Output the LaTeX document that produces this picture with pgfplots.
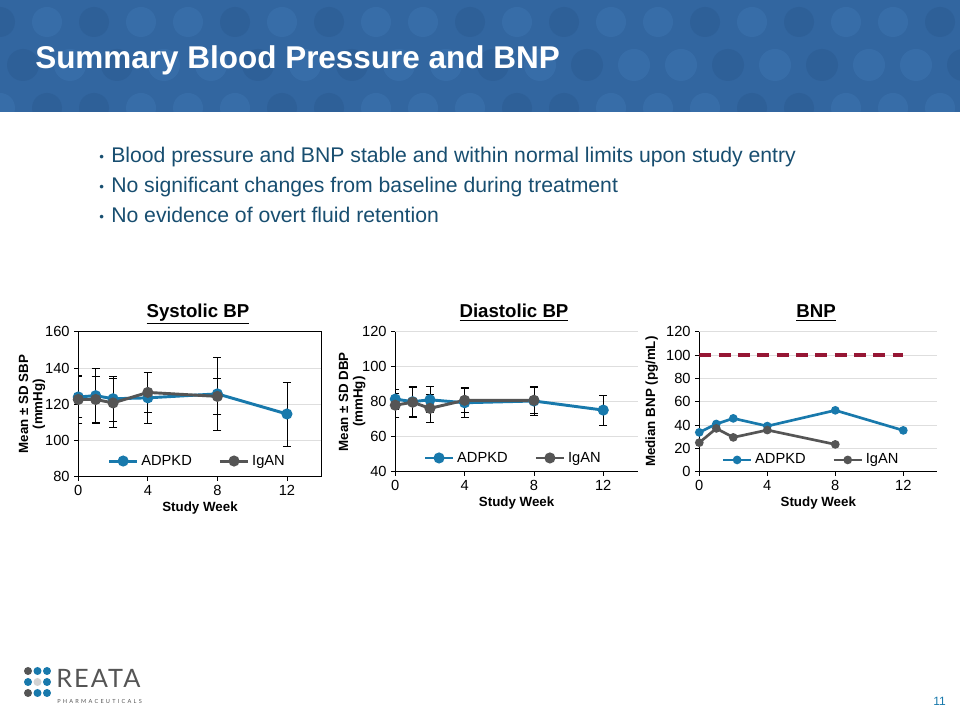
\documentclass[border=0pt]{standalone}
\usepackage{fontspec}
\setmainfont{Liberation Sans}
\newfontfamily\logofont{Lato}
\usepackage{pgfplots}
\usepackage{pgfplotstable}
\pgfplotsset{compat=1.18}
\definecolor{hdr}{RGB}{50,102,160}
\definecolor{hdrl}{RGB}{64,120,180}
\definecolor{hdrd}{RGB}{42,88,142}
\definecolor{adpkd}{RGB}{24,121,172}
\definecolor{igan}{RGB}{85,85,85}
\definecolor{refred}{RGB}{150,22,52}
\definecolor{bul}{RGB}{24,78,112}
\definecolor{gridc}{RGB}{222,222,222}

\pgfplotstableread{
w m e
0 124.0 11.5
1 124.7 15.2
2 123.0 12.5
4 123.5 14.0
8 125.7 20.0
12 114.6 17.7
}\sbpA
\pgfplotstableread{
w m e
0 122.6 13.3
1 122.6 12.5
2 120.7 13.5
4 126.5 11.0
8 124.3 10.0
}\sbpI
\pgfplotstableread{
w m e
0 81.5 5.8
1 80.0 8.3
2 81.1 7.5
4 79.4 8.5
8 80.4 8.5
12 75.2 8.5
}\dbpA
\pgfplotstableread{
w m e
0 78.0 7.0
1 79.7 8.8
2 76.2 8.2
4 80.8 6.8
8 80.8 7.4
}\dbpI
\pgfplotstableread{
w m
0 33.7
1 40.9
2 45.7
4 39.1
8 52.6
12 35.4
}\bnpA
\pgfplotstableread{
w m
0 24.9
1 37.1
2 29.4
4 35.7
8 23.4
}\bnpI

\pgfplotsset{
  slide/.style={
    scale only axis,
    xmin=0, xmax=14, xtick={0,4,8,12},
    axis line style={black, line width=0.6pt},
    tick style={black, line width=0.6pt},
    tick align=outside, major tick length=3pt,
    xtick pos=bottom, ytick pos=left,
    ymajorgrids, grid style={gridc, line width=0.5pt},
    tick label style={font=\fontsize{11}{13}\selectfont},
    /pgf/number format/assume math mode=true,
    xlabel={Study Week},
    xlabel style={font=\bfseries\fontsize{10}{12}\selectfont, inner sep=0pt, yshift=-1pt},
    ylabel style={font=\bfseries\fontsize{10}{10.8}\selectfont, align=center, anchor=center},
    legend columns=2,
    legend style={draw=none, fill=none, font=\fontsize{11}{13}\selectfont, anchor=center,
      /tikz/every even column/.append style={column sep=18pt}},
    legend image code/.code={\draw[##1, mark repeat=2, mark phase=2] plot coordinates {(0cm,0cm) (0.37cm,0cm) (0.74cm,0cm)};},
  },
  openframe/.style={axis x line*=bottom, axis y line*=left},
  bp/.style={line width=2.2pt, mark=*, mark size=3pt, mark options={solid},
    error bars/.cd, y dir=both, y explicit,
    error bar style={black, line width=0.6pt},
    error mark options={black, rotate=90, mark size=3pt, line width=0.6pt}},
  bnp/.style={line width=2pt, mark=*, mark size=2.2pt},
}

\begin{document}
\begin{tikzpicture}
\useasboundingbox (0,0) rectangle (720pt,540pt);
\begin{scope}[x=0.75pt, y=-0.75pt, yshift=540pt]
\fill[white] (0,0) rectangle (960,720);
% header band
\fill[hdr] (0,0) rectangle (960,112);
\begin{scope}
  \clip (0,0) rectangle (960,112);
  \foreach \i in {0,...,21} {
    \pgfmathsetmacro\sa{mod(\i*3,5)}
    \pgfmathsetmacro\sb{mod(\i*2+1,5)}
    \pgfmathsetmacro\sc{mod(\i*4+2,5)}
    \ifdim\sa pt<2pt \fill[hdrd, opacity=0.4] (\i*47,22) circle (15); \else \fill[hdrl, opacity=0.4] (\i*47,22) circle (15); \fi
    \ifdim\sb pt<2pt \fill[hdrd, opacity=0.4] (\i*47+23,65) circle (16); \else \fill[hdrl, opacity=0.4] (\i*47+23,65) circle (16); \fi
    \ifdim\sc pt<2pt \fill[hdrd, opacity=0.4] (\i*47,108) circle (15); \else \fill[hdrl, opacity=0.4] (\i*47,108) circle (15); \fi
  }
\end{scope}
\node[anchor=base west, inner sep=0pt, text=white, font=\bfseries\fontsize{23.6}{27}\selectfont] at (35,69) {Summary Blood Pressure and BNP};

% bullets
\foreach \yy/\tt in {162.5/{Blood pressure and BNP stable and within normal limits upon study entry},
                      192.5/{No significant changes from baseline during treatment},
                      222.5/{No evidence of overt fluid retention}} {
  \node[anchor=base west, inner sep=0pt, text=bul, font=\fontsize{10}{12}\selectfont] at (99,\yy-1) {\textbullet};
  \node[anchor=base west, inner sep=0pt, text=bul, font=\fontsize{15.9}{18}\selectfont] at (111,\yy) {\tt};
}

% chart titles
\node[anchor=base, font=\bfseries\fontsize{14}{16}\selectfont] at (198,318) {\underline{Systolic BP}};
\node[anchor=base, font=\bfseries\fontsize{14}{16}\selectfont] at (514,318) {\underline{Diastolic BP}};
\node[anchor=base, font=\bfseries\fontsize{14}{16}\selectfont] at (816,318) {\underline{BNP}};

% logo
\foreach \r/\cA/\cB/\cC in {0/igan/adpkd/adpkd, 1/adpkd/gray!35/adpkd, 2/igan/adpkd/adpkd} {
  \fill[\cA] (28,671+\r*11) circle (4);
  \fill[\cB] (37.5,671+\r*11) circle (4);
  \fill[\cC] (47,671+\r*11) circle (4);
}
\node[anchor=base west, inner sep=0pt, text=igan, font=\logofont\fontsize{19}{22}\selectfont\addfontfeature{LetterSpace=8}] at (56,688) {REATA};
\node[anchor=west, inner sep=0pt, text=igan, font=\logofont\fontsize{4.2}{5}\selectfont\addfontfeature{LetterSpace=40}] at (57,701) {PHARMACEUTICALS};
\node[anchor=base east, inner sep=0pt, text=adpkd, font=\fontsize{9}{10}\selectfont] at (946,706) {11};
\end{scope}

% Systolic
\begin{axis}[slide, at={(58.725pt,182.475pt)}, anchor=south west,
  width=182.55pt, height=108.75pt,
  ymin=80, ymax=160, ytick={80,100,...,160},
  ylabel={Mean ± SD SBP\\(mmHg)},
  ylabel style={at={(axis description cs:-0.19,0.5)}},
  legend style={at={(axis description cs:0.49,0.108)}}]
\addplot[adpkd, bp] table[x=w, y=m, y error=e] {\sbpA};
\addlegendentry{ADPKD}
\addplot[igan, bp] table[x=w, y=m, y error=e] {\sbpI};
\addlegendentry{IgAN}
\end{axis}

% Diastolic
\begin{axis}[slide, openframe, at={(296.475pt,186.225pt)}, anchor=south west,
  width=181.95pt, height=105pt,
  ymin=40, ymax=120, ytick={40,60,...,120},
  ylabel={Mean ± SD DBP\\(mmHg)},
  ylabel style={at={(axis description cs:-0.178,0.5)}},
  legend style={at={(axis description cs:0.487,0.098)}}]
\addplot[adpkd, bp] table[x=w, y=m, y error=e] {\dbpA};
\addlegendentry{ADPKD}
\addplot[igan, bp] table[x=w, y=m, y error=e] {\dbpI};
\addlegendentry{IgAN}
\end{axis}

% BNP
\begin{axis}[slide, openframe, at={(524.475pt,186.225pt)}, anchor=south west,
  width=178.5pt, height=105pt,
  ymin=0, ymax=120, ytick={0,20,...,120},
  ylabel={Median BNP (pg/mL)},
  ylabel style={at={(axis description cs:-0.2,0.5)}},
  legend style={at={(axis description cs:0.471,0.084)}}]
\addplot[refred, line width=2.6pt, dash pattern=on 9pt off 5.5pt, forget plot] coordinates {(0,100) (12,100)};
\addplot[adpkd, bnp] table[x=w, y=m] {\bnpA};
\addlegendentry{ADPKD}
\addplot[igan, bnp] table[x=w, y=m] {\bnpI};
\addlegendentry{IgAN}
\end{axis}
\end{tikzpicture}
\end{document}
